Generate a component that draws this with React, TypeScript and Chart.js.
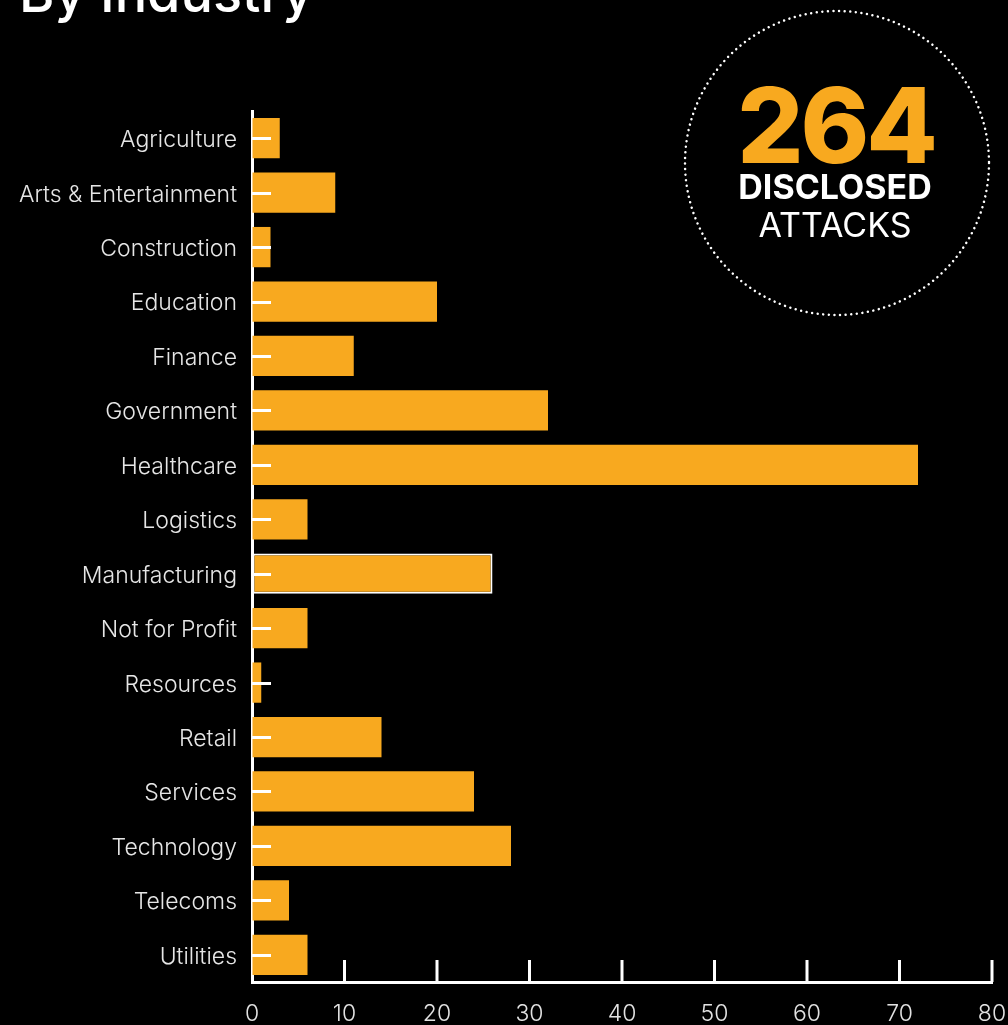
import React, { useEffect, useRef } from "react";
import { Chart, registerables } from "chart.js";

Chart.register(...registerables);

const categories = [
  "Agriculture",
  "Arts & Entertainment",
  "Construction",
  "Education",
  "Finance",
  "Government",
  "Healthcare",
  "Logistics",
  "Manufacturing",
  "Not for Profit",
  "Resources",
  "Retail",
  "Services",
  "Technology",
  "Telecoms",
  "Utilities",
];
const attacks = [3, 9, 2, 20, 11, 32, 72, 6, 26, 6, 1, 14, 24, 28, 4, 6];
const xTicks = [0, 10, 20, 30, 40, 50, 60, 70, 80];
const highlighted = "Manufacturing";
const totalLabel = "264";
const titleText = "By Industry";

const ORANGE = "#F8A91F";
const LABEL_FONT = { family: "Inter", size: 23, weight: "300" as any };

const decorPlugin = {
  id: "decor",
  beforeDraw(chart: any) {
    const ctx = chart.ctx;
    ctx.save();
    ctx.fillStyle = "#000";
    ctx.fillRect(0, 0, chart.width, chart.height);
    // title
    ctx.fillStyle = "#fff";
    ctx.font = "500 54px Inter";
    ctx.textBaseline = "alphabetic";
    ctx.textAlign = "left";
    ctx.fillText(titleText, 19, 12);
    // circle
    ctx.beginPath();
    ctx.arc(837, 163, 152, 0, Math.PI * 2);
    ctx.strokeStyle = "#fff";
    ctx.lineWidth = 2.5;
    ctx.lineCap = "round";
    ctx.setLineDash([0.01, 5.6]);
    ctx.stroke();
    ctx.setLineDash([]);
    ctx.textAlign = "center";
    ctx.fillStyle = ORANGE;
    ctx.font = "800 104px Inter";
    try {
      ctx.letterSpacing = "-3px";
    } catch (e) {}
    ctx.fillText(totalLabel, 836, 163);
    try {
      ctx.letterSpacing = "0px";
    } catch (e) {}
    ctx.fillStyle = "#fff";
    ctx.font = "700 34px Inter";
    ctx.fillText("DISCLOSED", 835, 199);
    ctx.font = "400 34px Inter";
    ctx.fillText("ATTACKS", 835, 237);
    ctx.restore();
  },
  afterDatasetsDraw(chart: any) {
    const ctx = chart.ctx;
    const xs = chart.scales.x;
    const ys = chart.scales.y;
    const area = chart.chartArea;
    ctx.save();
    ctx.strokeStyle = "#fff";
    ctx.lineWidth = 3;
    ys.ticks.forEach((_t: any, i: number) => {
      const y = Math.round(ys.getPixelForTick(i)) + 0.5;
      ctx.beginPath();
      ctx.moveTo(area.left, y);
      ctx.lineTo(area.left + 19, y);
      ctx.stroke();
    });
    xTicks.forEach((v) => {
      if (v === 0) return;
      const x = xs.getPixelForValue(v);
      ctx.beginPath();
      ctx.moveTo(x, area.bottom);
      ctx.lineTo(x, area.bottom - 22);
      ctx.stroke();
    });
    ctx.restore();
  },
};

export default function App() {
  const ref = useRef<HTMLCanvasElement>(null);
  useEffect(() => {
    document.body.style.margin = "0";
    document.body.style.background = "#000";
    const chart = new Chart(ref.current!, {
      type: "bar",
      data: {
        labels: categories,
        datasets: [
          {
            data: attacks,
            backgroundColor: ORANGE,
            borderColor: categories.map((c) => (c === highlighted ? "#fff" : ORANGE)),
            borderWidth: categories.map((c) => (c === highlighted ? 2 : 0)),
            borderSkipped: false,
            barPercentage: 0.74,
            categoryPercentage: 1,
          },
        ],
      },
      options: {
        indexAxis: "y",
        animation: false,
        responsive: false,
        layout: { padding: { top: 111, right: 16, left: 0, bottom: 0 } },
        plugins: {
          legend: { display: false },
          tooltip: { enabled: false },
        },
        scales: {
          x: {
            min: 0,
            max: 80,
            afterBuildTicks(scale: any) {
              scale.ticks = xTicks.map((v) => ({ value: v }));
            },
            afterFit(scale: any) {
              scale.height = 43;
              scale.paddingLeft = 0;
              scale.paddingRight = 0;
            },
            grid: { drawOnChartArea: false, drawTicks: false },
            border: { color: "#fff", width: 3 },
            ticks: {
              color: "#e2e2e2",
              font: LABEL_FONT,
              padding: 18,
            },
          },
          y: {
            afterFit(scale: any) {
              scale.width = 252;
              scale.paddingTop = 0;
              scale.paddingBottom = 0;
            },
            grid: { drawOnChartArea: false, drawTicks: false },
            border: { color: "#fff", width: 3 },
            ticks: {
              color: "#e6e6e6",
              font: LABEL_FONT,
              padding: 15,
              labelOffset: 2,
            },
          },
        },
      },
      plugins: [decorPlugin],
    } as any);
    return () => chart.destroy();
  }, []);
  return <canvas ref={ref} width={1008} height={1025} style={{ display: "block" }} />;
}
